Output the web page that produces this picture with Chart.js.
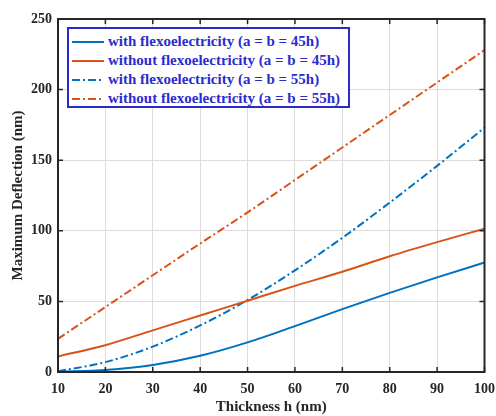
<!DOCTYPE html>
<html>
<head>
<meta charset="utf-8">
<script src="https://cdn.jsdelivr.net/npm/chart.js@4.4.1/dist/chart.umd.min.js"></script>
<style>
  html, body { margin: 0; padding: 0; background: #fff; overflow: hidden; width: 496px; height: 416px; }
  #wrap { position: relative; width: 504px; height: 416px; }
  #legend {
    position: absolute; left: 67px; top: 27px; width: 279px; height: 77px;
    border: 2px solid #2a2ac8; background: #fff;
    font: bold 15px "Liberation Serif", serif; color: #2b2bd0;
    overflow: hidden;
  }
  #legend .row { height: 19px; display: flex; align-items: center; white-space: nowrap; }
  #legend .row:first-child { margin-top: 3px; }
  #legend svg { margin-left: 3px; margin-right: 4px; flex: none; }
</style>
</head>
<body>
<div id="wrap">
  <canvas id="chart" width="504" height="416"></canvas>
  <div id="legend"></div>
</div>
<script>
// ===============================
// DATA
// ===============================
const thickness = [10, 20, 30, 40, 50, 60, 70, 80, 90, 100];

const withFlexo45    = [0.3, 1.5, 5, 11.5, 21, 32.5, 44.5, 56, 67, 77.5];
const withoutFlexo45 = [11, 19, 29.5, 40, 50.5, 61, 71, 82, 92, 101.5];
const withFlexo55    = [0.5, 7, 18, 33, 51, 72, 95, 120, 146, 173];
const withoutFlexo55 = [23.5, 46, 68.5, 91, 113, 136, 159, 182, 205, 228];

const seriesLabels = [
  "with flexoelectricity (a = b = 45h)",
  "without flexoelectricity (a = b = 45h)",
  "with flexoelectricity (a = b = 55h)",
  "without flexoelectricity (a = b = 55h)"
];

const xTicks = [10, 20, 30, 40, 50, 60, 70, 80, 90, 100];
const yTicks = [0, 50, 100, 150, 200, 250];

// ===============================
// STYLE
// ===============================
const BLUE = "#0072BD";
const ORANGE = "#D95319";
const DASHDOT = [8, 3, 2, 3];
const FONT = "'Liberation Serif', 'Times New Roman', serif";

function pts(ys) {
  return thickness.map((x, i) => ({ x: x, y: ys[i] }));
}

const datasets = [
  { label: seriesLabels[0], data: pts(withFlexo45),    borderColor: BLUE,   dash: [] },
  { label: seriesLabels[1], data: pts(withoutFlexo45), borderColor: ORANGE, dash: [] },
  { label: seriesLabels[2], data: pts(withFlexo55),    borderColor: BLUE,   dash: DASHDOT },
  { label: seriesLabels[3], data: pts(withoutFlexo55), borderColor: ORANGE, dash: DASHDOT }
].map(d => ({
  label: d.label,
  data: d.data,
  borderColor: d.borderColor,
  backgroundColor: d.borderColor,
  borderDash: d.dash,
  borderWidth: 2,
  pointRadius: 0,
  cubicInterpolationMode: "monotone",
  fill: false
}));

// ===============================
// BOX + INWARD TICKS (MATLAB style)
// ===============================
const boxPlugin = {
  id: "box",
  afterDatasetsDraw(chart) {
    const { ctx, chartArea: a, scales } = chart;
    ctx.save();
    ctx.strokeStyle = "#262626";
    ctx.lineWidth = 2;
    ctx.strokeRect(a.left, a.top, a.right - a.left, a.bottom - a.top);
    ctx.lineWidth = 1.5;
    const len = 5;
    ctx.beginPath();
    xTicks.forEach(v => {
      const px = scales.x.getPixelForValue(v);
      ctx.moveTo(px, a.bottom); ctx.lineTo(px, a.bottom - len);
      ctx.moveTo(px, a.top);    ctx.lineTo(px, a.top + len);
    });
    yTicks.forEach(v => {
      const py = scales.y.getPixelForValue(v);
      ctx.moveTo(a.left, py);  ctx.lineTo(a.left + len, py);
      ctx.moveTo(a.right, py); ctx.lineTo(a.right - len, py);
    });
    ctx.stroke();
    ctx.restore();
  }
};

// ===============================
// CHART
// ===============================
const chart = new Chart(document.getElementById("chart"), {
  type: "line",
  data: { datasets: datasets },
  options: {
    responsive: false,
    animation: false,
    layout: { padding: { top: 19, right: 16, left: 0, bottom: 0 } },
    plugins: { legend: { display: false }, tooltip: { enabled: false } },
    scales: {
      x: {
        type: "linear",
        min: 10, max: 100,
        afterBuildTicks: s => { s.ticks = xTicks.map(v => ({ value: v })); },
        afterFit: s => { s.height = 44; },
        grid: { color: "#dcdcdc", lineWidth: 1, drawTicks: false },
        border: { display: false },
        ticks: { color: "#262626", padding: 9, font: { family: FONT, size: 14, weight: "bold" } },
        title: {
          display: true, text: "Thickness h (nm)", color: "#262626",
          padding: { top: 0, bottom: 0 },
          font: { family: FONT, size: 15, weight: "bold" }
        }
      },
      y: {
        min: 0, max: 250,
        afterBuildTicks: s => { s.ticks = yTicks.map(v => ({ value: v })); },
        afterFit: s => { s.width = 58; },
        grid: { color: "#dcdcdc", lineWidth: 1, drawTicks: false },
        border: { display: false },
        ticks: { color: "#262626", padding: 6, font: { family: FONT, size: 14, weight: "bold" } },
        title: {
          display: true, text: "Maximum Deflection (nm)", color: "#262626",
          padding: { top: 9, bottom: 0 },
          font: { family: FONT, size: 15, weight: "bold" }
        }
      }
    }
  },
  plugins: [boxPlugin]
});

// ===============================
// LEGEND (inside the axes)
// ===============================
const legendEl = document.getElementById("legend");
datasets.forEach(d => {
  const row = document.createElement("div");
  row.className = "row";
  const dash = d.borderDash.length ? d.borderDash.join(",") : "none";
  row.innerHTML =
    `<svg width="32" height="6"><line x1="0" y1="3" x2="32" y2="3" stroke="${d.borderColor}" stroke-width="2" stroke-dasharray="${dash}"/></svg>` +
    `<span>${d.label}</span>`;
  legendEl.appendChild(row);
});
</script>
</body>
</html>
